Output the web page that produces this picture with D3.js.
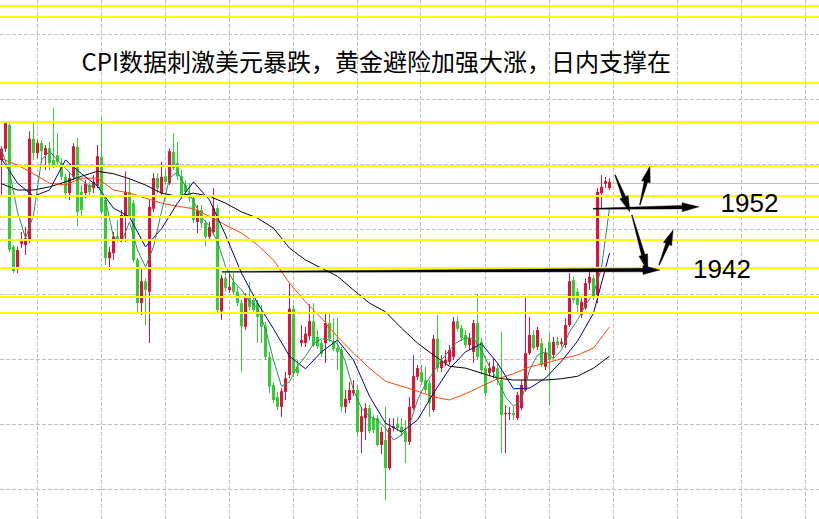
<!DOCTYPE html>
<html><head><meta charset="utf-8">
<script src="https://cdn.jsdelivr.net/npm/d3@7/dist/d3.min.js"></script>
<style>html,body{margin:0;padding:0;background:#fff;overflow:hidden}</style>
</head><body>
<svg id="c" width="819" height="519"></svg>
<script>
// ---------- data (prices) ----------
const title = "CPI数据刺激美元暴跌，黄金避险加强大涨，日内支撑在";

const opens = [1959.4,1961.2,1965.0,1945.5,1942.1,1946.0,1945.8,1946.6,1962.8,1960.5,
1962.1,1960.2,1961.3,1959.4,1960.2,1958.9,1956.7,1954.1,1956.7,1961.5,
1954.3,1954.1,1955.4,1954.9,1955.4,1959.9,1953.0,1943.7,1944.5,1947.2,
1946.6,1950.4,1954.3,1952.5,1943.4,1936.5,1940.0,1938.3,1951.6,1956.5,
1954.1,1956.8,1955.7,1960.7,1958.9,1956.8,1955.4,1954.1,1953.3,1949.5,
1951.4,1949.3,1947.1,1947.9,1951.7,1935.2,1940.5,1938.6,1939.9,1938.3,
1936.5,1932.7,1937.5,1937.0,1936.5,1935.1,1932.7,1927.9,1923.4,1921.5,
1919.9,1922.3,1925.0,1935.6,1926.3,1930.1,1930.1,1931.2,1933.6,1931.1,
1930.1,1930.1,1933.3,1930.4,1929.3,1929.0,1919.9,1921.0,1922.1,1922.6,
1915.9,1918.1,1919.7,1918.1,1918.1,1913.8,1914.6,1910.1,1916.5,1917.2,
1916.7,1916.0,1914.3,1919.7,1924.7,1925.5,1924.2,1923.7,1919.4,1930.8,
1926.1,1926.9,1927.1,1927.9,1933.6,1932.5,1931.4,1929.8,1928.7,1933.3,
1930.3,1926.1,1925.3,1925.5,1926.1,1924.2,1918.8,1918.8,1918.9,1918.1,
1919.7,1922.6,1928.5,1931.4,1929.5,1930.1,1926.3,1930.3,1928.2,1930.4,
1930.0,1929.8,1933.0,1940.2,1938.3,1934.6,1935.7,1939.7,1940.5,1937.8,
1954.1,1955.6,1954.9];

const highs = [1961.6,1965.6,1965.3,1945.8,1945.6,1947.9,1948.7,1964.0,1965.6,1962.6,
1962.6,1961.8,1962.3,1967.7,1963.7,1959.7,1957.3,1957.3,1962.1,1962.9,
1955.4,1956.2,1955.9,1957.0,1961.8,1966.3,1953.3,1945.5,1947.9,1949.8,
1951.4,1957.6,1956.5,1953.0,1943.7,1942.1,1940.4,1953.0,1957.3,1957.3,
1959.1,1957.8,1961.2,1963.7,1962.3,1957.8,1956.2,1955.7,1953.8,1952.2,
1952.2,1949.8,1949.5,1954.9,1952.2,1941.0,1941.5,1941.3,1941.3,1939.1,
1937.0,1938.1,1939.9,1937.8,1937.0,1936.2,1933.5,1928.7,1923.9,1922.3,
1922.9,1925.5,1939.6,1936.2,1927.4,1933.0,1932.7,1936.4,1936.5,1932.2,
1930.6,1934.9,1934.9,1934.1,1934.1,1929.5,1922.6,1923.9,1924.2,1923.4,
1919.9,1920.5,1920.2,1918.6,1918.6,1916.7,1919.9,1918.1,1918.1,1918.3,
1918.1,1917.8,1921.5,1928.2,1926.6,1926.6,1926.3,1924.2,1931.4,1934.6,
1928.2,1929.0,1929.8,1934.3,1934.4,1933.0,1932.2,1931.7,1933.8,1938.0,
1930.9,1926.6,1927.1,1927.7,1926.9,1931.9,1920.2,1919.9,1919.9,1922.3,
1924.2,1937.3,1934.3,1932.2,1932.7,1930.9,1929.3,1931.7,1931.1,1931.1,
1930.9,1934.1,1941.3,1940.7,1938.9,1937.3,1940.5,1942.3,1941.0,1954.9,
1957.0,1956.7,1956.5];

const lows = [1953.5,1960.7,1944.7,1941.3,1941.3,1945.3,1944.2,1946.1,1959.4,1959.7,
1958.9,1957.8,1957.8,1958.1,1958.6,1956.2,1953.3,1953.0,1956.2,1948.8,
1950.3,1953.3,1953.6,1954.1,1954.9,1950.8,1942.6,1941.8,1943.4,1946.3,
1946.3,1946.3,1950.1,1943.1,1935.1,1934.6,1933.0,1930.1,1951.1,1954.1,
1953.8,1955.4,1955.4,1957.8,1956.2,1953.3,1953.8,1952.7,1949.3,1947.7,
1948.5,1945.6,1946.6,1947.6,1935.1,1933.8,1938.4,1938.1,1937.8,1936.0,
1925.5,1932.2,1935.4,1935.1,1930.1,1930.1,1927.4,1922.1,1920.5,1919.4,
1918.3,1921.0,1924.5,1924.7,1924.8,1929.5,1929.5,1930.6,1929.5,1929.2,
1927.9,1926.9,1930.3,1928.8,1925.8,1919.1,1918.9,1920.5,1921.6,1915.1,
1912.5,1914.6,1915.7,1915.7,1913.5,1912.4,1905.0,1909.8,1916.0,1916.0,
1915.2,1910.9,1913.8,1919.4,1924.2,1923.4,1922.1,1918.3,1919.1,1925.5,
1925.5,1926.4,1926.6,1927.4,1931.9,1930.4,1929.3,1929.0,1926.9,1927.4,
1925.0,1921.5,1924.8,1924.5,1923.4,1912.5,1912.5,1917.8,1917.8,1917.8,
1919.4,1922.3,1928.2,1929.0,1929.0,1926.3,1925.8,1920.2,1927.7,1929.3,
1929.5,1929.3,1932.7,1936.5,1935.1,1934.1,1935.4,1938.6,1937.0,1936.5,
1951.7,1954.9,1954.6];

const closes = [1961.2,1965.3,1945.0,1941.6,1945.0,1946.4,1946.9,1962.8,1960.5,1962.1,
1960.8,1961.3,1958.9,1958.4,1959.1,1956.7,1954.1,1956.5,1961.6,1951.1,
1951.4,1955.6,1954.3,1955.9,1960.0,1951.1,1943.7,1944.7,1947.2,1946.6,
1950.6,1954.3,1950.4,1943.4,1936.5,1940.0,1938.6,1951.9,1956.5,1954.9,
1956.7,1955.9,1960.8,1958.1,1956.8,1953.8,1954.3,1953.3,1949.8,1951.4,
1949.3,1947.1,1948.7,1951.7,1935.4,1940.5,1938.9,1939.1,1938.3,1936.5,
1932.8,1937.3,1935.9,1935.4,1934.3,1932.7,1927.9,1923.1,1921.0,1919.9,
1922.4,1924.5,1935.6,1925.3,1925.3,1930.6,1931.6,1933.6,1929.8,1929.6,
1928.4,1933.3,1930.8,1929.2,1928.7,1919.9,1921.2,1922.6,1922.6,1915.9,
1918.4,1919.7,1916.0,1916.2,1913.8,1915.9,1910.1,1916.5,1916.8,1916.5,
1915.9,1914.3,1919.9,1924.8,1926.1,1923.9,1922.6,1920.5,1930.8,1926.1,
1927.1,1927.4,1929.0,1933.6,1932.4,1930.9,1929.8,1930.9,1933.3,1927.9,
1925.8,1922.1,1926.1,1926.4,1924.2,1918.6,1918.9,1918.9,1918.6,1921.8,
1923.4,1928.5,1931.4,1929.3,1932.2,1926.6,1928.5,1927.4,1930.3,1929.8,
1930.3,1933.0,1940.0,1937.0,1936.2,1936.7,1939.7,1940.7,1937.5,1954.3,
1955.1,1956.0,1955.9];

// moving-average lines, sampled every 4 bars (bar 0,4,8,...,152)
const maSlow = [1955.6,1954.6,1954.6,1955.1,1955.9,1956.8,1957.6,1957.2,1956.4,1955.4,
1954.1,1953.6,1954.1,1953.6,1952.5,1951.1,1950.1,1948.5,1945.3,1943.4,
1942.1,1940.8,1938.6,1936.5,1935.1,1932.5,1930.1,1928.2,1926.4,1926.1,
1925.3,1924.5,1924.2,1924.2,1924.2,1924.4,1924.8,1926.1,1928.0];
const maMid = [1959.6,1958.6,1957.2,1955.7,1955.4,1956.5,1956.5,1954.6,1954.1,1953.3,
1952.5,1952.0,1951.6,1950.4,1949.0,1947.7,1945.8,1943.4,1939.7,1936.7,
1934.1,1931.1,1928.5,1926.1,1924.0,1923.2,1922.4,1921.5,1921.0,1922.0,
1923.2,1924.4,1925.2,1926.3,1926.9,1927.6,1928.2,1929.3,1932.7];
const maTen = [1959.6,1955.7,1953.6,1954.6,1959.4,1957.2,1955.2,1951.7,1950.3,1945.5,
1948.4,1952.5,1955.9,1953.0,1947.4,1941.3,1936.5,1932.4,1928.0,1926.0,
1928.7,1930.6,1927.4,1921.6,1917.3,1915.9,1917.8,1922.1,1926.0,1928.7,
1930.0,1926.9,1922.8,1922.9,1924.5,1927.2,1930.4,1934.9,1944.5];
// fast average, sampled every 2 bars (bar 0,2,4,...,152)
const maFast = [1961.0,1957.5,1951.1,1946.9,1950.6,1959.4,1960.8,1959.4,1958.1,1956.7,
1956.2,1955.1,1955.7,1953.0,1947.1,1946.3,1949.5,1945.0,1942.3,1945.5,
1951.1,1956.5,1957.5,1955.2,1952.8,1950.3,1948.8,1946.3,1942.4,1940.0,
1938.6,1936.8,1935.7,1932.4,1927.4,1923.2,1923.9,1926.4,1928.0,1930.0,
1930.8,1930.6,1930.0,1927.1,1922.6,1919.7,1918.4,1917.8,1916.5,1914.6,
1915.4,1917.0,1921.0,1923.6,1925.5,1927.4,1929.0,1930.3,1930.9,1930.9,
1929.0,1926.3,1924.2,1921.5,1920.0,1921.0,1925.8,1928.2,1928.7,1927.6,
1929.0,1931.9,1933.8,1936.2,1938.0,1942.1,1951.7];

// horizontal price levels
const yellowLevels = [1984.1,1982.3,1971.7,1965.4,1958.5,1953.7,1950.2,1946.6,1942.1,1937.4,1935.0];
const gridPrices = [1979.6,1969.2,1958.8,1948.4,1938.0,1927.6,1917.2,1906.8];
const gridBars = [8.875,24.875,40.875,56.875,72.875,88.875,104.875,120.875,136.875,152.875,168.875,184.875,200.875];
const bidPrice = 1955.7;

// hand-drawn arrows: [bar, price] tail -> head
const arrows = [
  {from:[55.1,1941.5], to:[164.6,1941.8]},
  {from:[147.9,1951.6], to:[174.4,1951.9]},
  {from:[153.4,1957.0], to:[157.1,1951.1]},
  {from:[159.6,1952.2], to:[162.1,1958.4]},
  {from:[157.6,1950.6], to:[161.6,1941.6]},
  {from:[164.4,1942.6], to:[167.9,1948.2]}
];
const labels = [
  {text:"1952", bar:179.75, price:1951.1},
  {text:"1942", bar:172.9, price:1940.5}
];

// ---------- drawing ----------
const W = 819, H = 519;
const x = d3.scaleLinear().domain([-0.375, 204.375]).range([0, W]);
const y = d3.scaleLinear().domain([1901.96, 1985]).range([H, 0]);
const svg = d3.select('#c');
svg.append('rect').attr('width', W).attr('height', H).attr('fill', '#fff');

const bars = opens.map((o, i) => ({i, o, h: highs[i], l: lows[i], c: closes[i]}));

// grid
const g0 = svg.append('g').attr('stroke', '#c0c0c0').attr('stroke-width', 1).attr('stroke-dasharray', '4,2');
g0.selectAll('line.h').data(gridPrices).join('line').attr('class', 'h')
  .attr('x1', 0).attr('x2', W)
  .attr('y1', d => Math.round(y(d)) + 0.5).attr('y2', d => Math.round(y(d)) + 0.5);
g0.selectAll('line.v').data(gridBars).join('line').attr('class', 'v')
  .attr('y1', 0).attr('y2', H)
  .attr('x1', d => Math.floor(x(d)) + 0.5).attr('x2', d => Math.floor(x(d)) + 0.5);

// bid line
svg.append('line').attr('x1', 0).attr('x2', W)
  .attr('y1', Math.round(y(bidPrice)) + 0.5).attr('y2', Math.round(y(bidPrice)) + 0.5)
  .attr('stroke', '#c0c0c0').attr('stroke-width', 1);

// candles
const up = '#dc143c', down = '#32cd32';
const gc = svg.append('g');
gc.selectAll('line').data(bars).join('line')
  .attr('x1', d => x(d.i)).attr('x2', d => x(d.i))
  .attr('y1', d => y(d.h)).attr('y2', d => y(d.l))
  .attr('stroke', d => d.c >= d.o ? up : down).attr('stroke-width', 1);
gc.selectAll('rect').data(bars).join('rect')
  .attr('x', d => x(d.i) - 1.5).attr('width', 3)
  .attr('y', d => y(Math.max(d.o, d.c)))
  .attr('height', d => Math.max(1, Math.abs(y(d.o) - y(d.c))))
  .attr('fill', d => d.c >= d.o ? up : down);

// moving averages
const line = d3.line().x(d => x(d[0])).y(d => y(d[1]));
function drawMA(vals, step, color) {
  svg.append('path').datum(vals.map((v, k) => [k * step, v]))
    .attr('d', line).attr('fill', 'none').attr('stroke', color).attr('stroke-width', 1);
}
drawMA(maSlow, 4, '#000000');
drawMA(maMid, 4, '#ff4500');
drawMA(maTen, 4, '#000080');
drawMA(maFast, 2, '#2e8b57');

// yellow levels
svg.append('g').selectAll('line').data(yellowLevels).join('line')
  .attr('x1', 0).attr('x2', W)
  .attr('y1', d => Math.round(y(d))).attr('y2', d => Math.round(y(d)))
  .attr('stroke', '#ffff00').attr('stroke-width', 2);

// tapered arrows
function arrowPath(a) {
  const x1 = x(a.from[0]), y1 = y(a.from[1]), x2 = x(a.to[0]), y2 = y(a.to[1]);
  const dx = x2 - x1, dy = y2 - y1, len = Math.hypot(dx, dy);
  const ux = dx / len, uy = dy / len, nx = -uy, ny = ux;
  const headLen = Math.min(17, len * 0.4), headW = 9, tailW = 0.8, shaftW = 3.6;
  const bx = x2 - ux * headLen, by = y2 - uy * headLen;
  const p = [
    [x1 + nx * tailW / 2, y1 + ny * tailW / 2],
    [bx + nx * shaftW / 2, by + ny * shaftW / 2],
    [bx + nx * headW / 2, by + ny * headW / 2],
    [x2, y2],
    [bx - nx * headW / 2, by - ny * headW / 2],
    [bx - nx * shaftW / 2, by - ny * shaftW / 2],
    [x1 - nx * tailW / 2, y1 - ny * tailW / 2]
  ];
  return 'M' + p.map(q => q[0].toFixed(2) + ',' + q[1].toFixed(2)).join('L') + 'Z';
}
svg.append('g').selectAll('path').data(arrows).join('path')
  .attr('d', arrowPath).attr('fill', '#000').attr('stroke', '#000').attr('stroke-width', 0.4);

// labels
svg.append('g').selectAll('text').data(labels).join('text')
  .attr('x', d => x(d.bar)).attr('y', d => y(d.price))
  .attr('font-family', '"Liberation Sans", Arial, sans-serif').attr('font-size', 26)
  .attr('fill', '#000').text(d => d.text);

svg.append('text').attr('x', 81.5).attr('y', 71)
  .attr('font-family', '"Noto Sans CJK SC", "Noto Sans", sans-serif').attr('font-size', 24)
  .attr('fill', '#000').text(title);
</script>
</body></html>
